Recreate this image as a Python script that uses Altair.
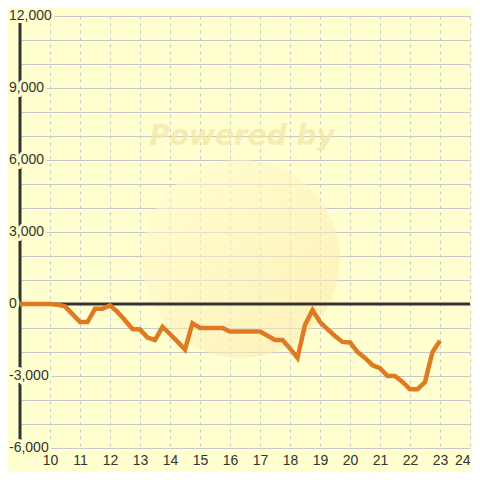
import altair as alt
import pandas as pd

# ---- data ----
HOURS = [9.0, 9.25, 9.5, 9.75, 10.0, 10.25, 10.5, 10.75, 11.0, 11.25, 11.5, 11.75,
         12.0, 12.25, 12.5, 12.75, 13.0, 13.25, 13.5, 13.75, 14.0, 14.25, 14.5, 14.75,
         15.0, 15.25, 15.5, 15.75, 16.0, 16.25, 16.5, 16.75, 17.0, 17.25, 17.5, 17.75,
         18.0, 18.25, 18.5, 18.75, 19.0, 19.25, 19.5, 19.75, 20.0, 20.25, 20.5, 20.75,
         21.0, 21.25, 21.5, 21.75, 22.0, 22.25, 22.5, 22.75, 23.0]
VALUES = [0, 0, 0, 0, 0, -30, -100, -420, -750, -750, -200, -200,
          -60, -330, -680, -1040, -1060, -1400, -1500, -950, -1250, -1570, -1900, -800,
          -1000, -1000, -1000, -1000, -1150, -1150, -1150, -1150, -1150, -1320, -1500, -1500,
          -1850, -2250, -880, -250, -750, -1050, -1330, -1580, -1600, -2000, -2250, -2550,
          -2670, -3000, -3000, -3250, -3550, -3550, -3250, -2000, -1530]

X_TICKS = [10, 11, 12, 13, 14, 15, 16, 17, 18, 19, 20, 21, 22, 23, 24]
Y_GRID = [-6000, -5000, -4000, -3000, -2000, -1000, 0, 1000, 2000, 3000,
          4000, 5000, 6000, 7000, 8000, 9000, 10000, 11000, 12000]
Y_LABEL_VALUES = [12000, 9000, 6000, 3000, 0, -3000, -6000]
Y_LABEL_TEXT = ["12,000", "9,000", "6,000", "3,000", "0", "-3,000", "-6,000"]
X_DOMAIN = [9, 24]
Y_DOMAIN = [-6000, 12000]

BG = "#FFFFD0"
INK = "#333333"
GRID = "#C8C8C8"
ORANGE = "#E07A22"
FONT = "Liberation Sans"

xs = alt.Scale(domain=X_DOMAIN, nice=False, zero=False)
ys = alt.Scale(domain=Y_DOMAIN, nice=False, zero=False)

x_axis = alt.Axis(values=X_TICKS, format="d", title=None, grid=True,
                  gridColor=GRID, gridDash=[3, 4], gridWidth=1,
                  domain=False, ticks=False, labelFontSize=14, labelColor=INK,
                  labelFont=FONT, labelPadding=5, labelFlush=True,
                  labelOverlap=False)
y_axis = alt.Axis(values=Y_GRID, title=None, grid=True, gridColor=GRID,
                  gridWidth=1, labels=False, ticks=False, domain=False)

line_df = pd.DataFrame({"h": HOURS, "v": VALUES})
wm_df = pd.DataFrame({"k": [0]})
vaxis_df = pd.DataFrame({"h": [X_DOMAIN[0]], "v": [Y_DOMAIN[0]], "v2": [Y_DOMAIN[1]]})
zero_df = pd.DataFrame({"h": [X_DOMAIN[0]], "h2": [X_DOMAIN[1]], "v": [0]})
lab_df = pd.DataFrame({"v": Y_LABEL_VALUES, "t": Y_LABEL_TEXT})

X = alt.X("h:Q", scale=xs, axis=x_axis)
Y = alt.Y("v:Q", scale=ys, axis=y_axis)

# faint watermark
grad = alt.LinearGradient(
    gradient="linear",
    stops=[alt.GradientStop(offset=0, color="#FFFCD2"),
           alt.GradientStop(offset=1, color="#FBE6A4")],
    x1=0, y1=0, x2=1, y2=1)
wm_circle = alt.Chart(wm_df).mark_point(
    shape="circle", filled=True, size=39200, fill=grad, strokeWidth=0, opacity=0.55
).encode(x=alt.value(221), y=alt.value(243))
wm_text = alt.Chart(wm_df).mark_text(
    font="DejaVu Sans", fontSize=28, fontWeight="bold", fontStyle="italic",
    color="#F2E7A6", align="center", baseline="alphabetic", opacity=0.75
).encode(x=alt.value(222), y=alt.value(129), text=alt.value("Powered by"))

vaxis = alt.Chart(vaxis_df).mark_rule(color=INK, strokeWidth=3).encode(
    x=X, y=Y, y2="v2:Q")
zero = alt.Chart(zero_df).mark_rule(color=INK, strokeWidth=3).encode(
    x=X, x2="h2:Q", y=Y)

halo = alt.Chart(lab_df).mark_text(
    align="left", baseline="middle", font=FONT, fontSize=14,
    fill=BG, stroke=BG, strokeWidth=6, strokeJoin="round"
).encode(x=alt.value(-11), y=Y, text="t:N")
labels = alt.Chart(lab_df).mark_text(
    align="left", baseline="middle", font=FONT, fontSize=14, color=INK
).encode(x=alt.value(-11), y=Y, text="t:N")

line = alt.Chart(line_df).mark_line(color=ORANGE, strokeWidth=4.5).encode(x=X, y=Y)

chart = alt.layer(wm_circle, wm_text, vaxis, zero, halo, labels, line).properties(
    width=450, height=432, background=BG,
    padding={"left": 12, "top": 8, "right": 2, "bottom": 24},
    autosize=alt.AutoSizeParams(type="none"),
).configure_view(stroke=None)

chart.save("out.html", embed_options={"renderer": "svg", "actions": False})
